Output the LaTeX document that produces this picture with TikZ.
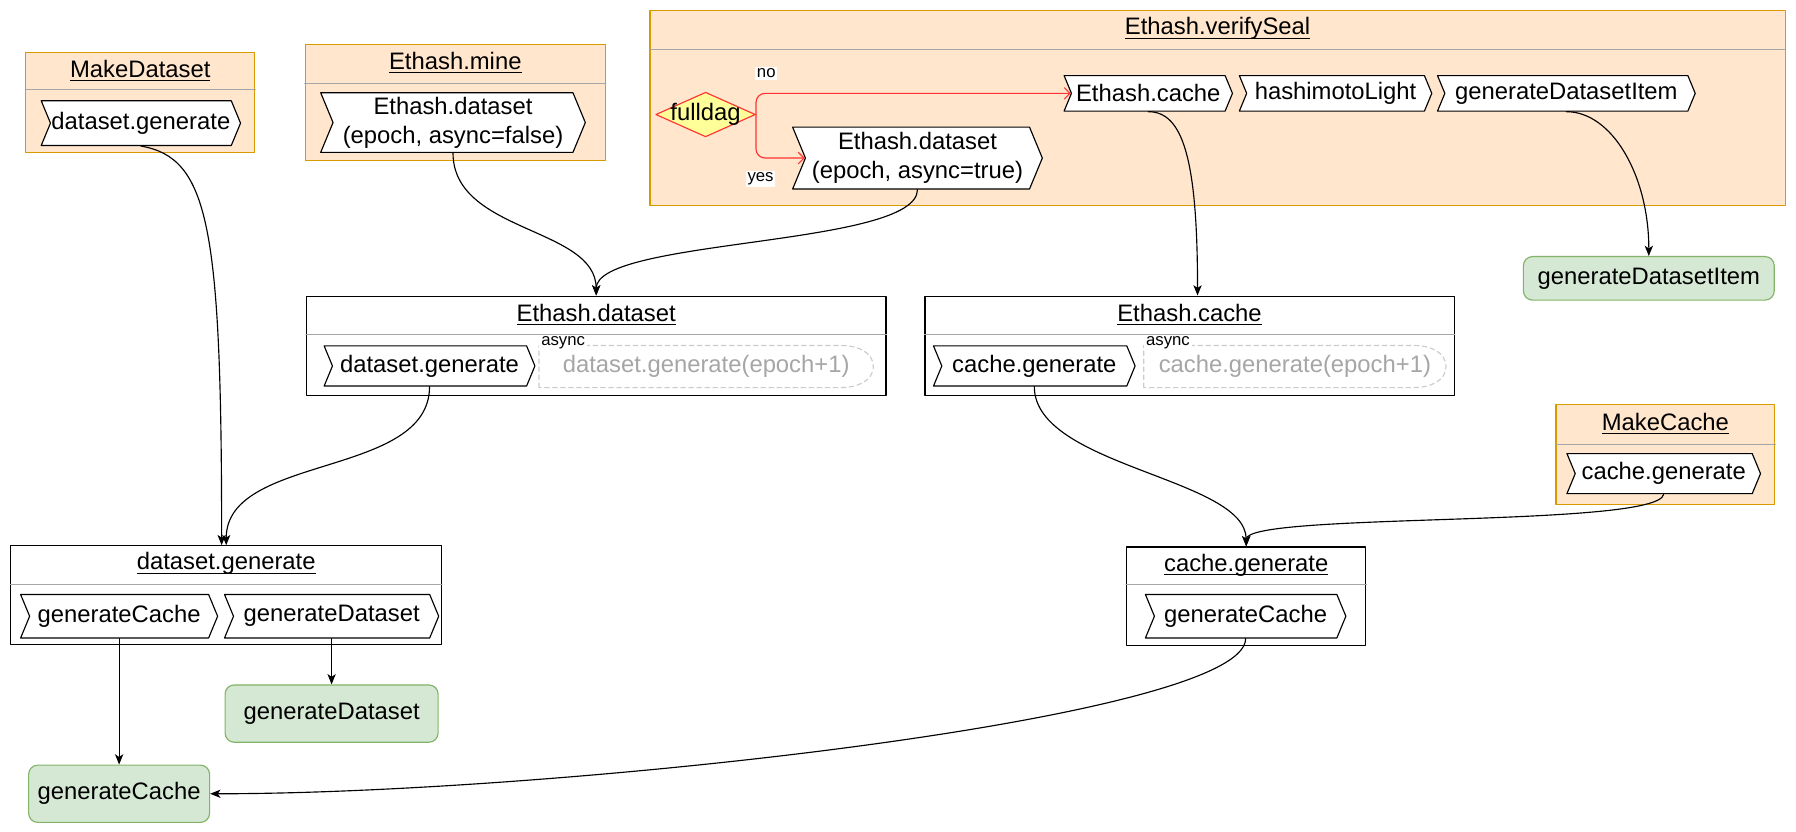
\documentclass[tikz,border=0pt]{standalone}
\usepackage{fontspec}
\setmainfont{Liberation Sans}
\usetikzlibrary{shapes.symbols,shapes.geometric,arrows.meta}
\definecolor{orangebg}{HTML}{FFE6CC}
\definecolor{orangeln}{HTML}{D79B00}
\definecolor{greenbg}{HTML}{D5E8D4}
\definecolor{greenln}{HTML}{82B366}
\definecolor{redln}{HTML}{FF3333}
\definecolor{yellowbg}{HTML}{FFFF99}
\newcommand\ulin[1]{\underline{\raisebox{0pt}[\height][0pt]{#1}}}
\begin{document}
\begin{tikzpicture}[x=0.5pt,y=0.5pt,line join=round,line cap=round]
		\useasboundingbox (0,0) rectangle (1568,-726);
		\tikzset{
		grp/.style={draw=orangeln,fill=orangebg,line width=0.5pt,anchor=north west,inner sep=0},
		blk/.style={draw,fill=white,line width=0.5pt,anchor=north west,inner sep=0},
		txt/.style={font=\fontsize{10.4}{12.5}\selectfont},
		ttl/.style={txt,inner sep=0},
		split/.style={draw=black!35,line width=0.5pt},
		chev/.style={txt,signal,signal to=east,signal from=west,signal pointer angle=135,draw,fill=white,line width=0.5pt,inner sep=0,align=center},
		leaf/.style={txt,rounded corners=4pt,draw=greenln,fill=greenbg,line width=0.5pt,inner sep=0},
		tag/.style={font=\fontsize{7.3}{8.8}\selectfont,fill=white,inner sep=0.8pt},
		later/.style={txt,text=black!35,inner sep=0},
		laterbox/.style={draw=black!20,dash pattern=on 2pt off 1.5pt,line width=0.5pt},
		call/.style={-{Stealth[length=4.5pt,width=3.6pt,inset=1.2pt]},line width=0.5pt},
		branch/.style={draw=redln,line width=0.5pt,rounded corners=4pt,-{Straight Barb[length=2.5pt,width=5pt]}},
		}
		%khung
		\node[grp,minimum width=100pt,minimum height=44pt] (mkds) at (22,-45) {};
		\node[grp,minimum width=131pt,minimum height=51pt] (mine) at (266,-38) {};
		\node[grp,minimum width=495.5pt,minimum height=85pt] (seal) at (567,-9) {};
		\node[blk,minimum width=253pt,minimum height=43.5pt] (dsb) at (267,-258) {};
		\node[blk,minimum width=231pt,minimum height=43.5pt] (cab) at (807,-258) {};
		\node[grp,minimum width=95.5pt,minimum height=43.5pt] (mkca) at (1358,-353) {};
		\node[blk,minimum width=188pt,minimum height=43pt] (dgen) at (9,-476) {};
		\node[blk,minimum width=104.5pt,minimum height=43pt] (cgen) at (983,-477) {};
		\foreach \n/\t/\s/\l in {mkds/62/78/MakeDataset,mine/55/73/Ethash.mine,seal/25/43/Ethash.verifySeal,dsb/275/292/Ethash.dataset,cab/275/292/Ethash.cache,mkca/370/388/MakeCache,dgen/492/510/dataset.generate,cgen/493/510/cache.generate}{
		\node[ttl] (\n-t) at (\n.north |- 0,-\t) {\ulin{\l}};
		\draw[split] (\n.west |- 0,-\s) -- (\n.east |- 0,-\s);
		}
		%buoc
		\node[chev,minimum width=87pt,minimum height=19.5pt] (c1) at (123,-107.5) {dataset.generate};
		\node[chev,minimum width=115.5pt,minimum height=26pt] (c2) at (395.5,-107) {Ethash.dataset\\(epoch, async=false)};
		\node[chev,minimum width=73.5pt,minimum height=15.5pt] (c3) at (1002.5,-81.5) {Ethash.cache};
		\node[chev,minimum width=84pt,minimum height=15.5pt] (c4) at (1166,-81.5) {hashimotoLight};
		\node[chev,minimum width=112.5pt,minimum height=15.5pt] (c5) at (1367.5,-81.5) {generateDatasetItem};
		\node[chev,minimum width=109pt,minimum height=27pt] (c6) at (801,-138) {Ethash.dataset\\(epoch, async=true)};
		\node[chev,minimum width=92pt,minimum height=17.5pt] (c7) at (375,-319.5) {dataset.generate};
		\node[chev,minimum width=88pt,minimum height=17.5pt] (c8) at (903,-319.5) {cache.generate};
		\node[chev,minimum width=84.5pt,minimum height=17.5pt] (c9) at (1452.5,-413.5) {cache.generate};
		\node[chev,minimum width=86pt,minimum height=19pt] (c10) at (104,-538) {generateCache};
		\node[chev,minimum width=93.5pt,minimum height=19pt] (c11) at (289.5,-538) {generateDataset};
		\node[chev,minimum width=87.5pt,minimum height=19pt] (c12) at (1087.5,-538) {generateCache};
		%fulldag
		\node[diamond,draw=redln,fill=yellowbg,line width=0.5pt,minimum width=43.5pt,minimum height=19.5pt,inner sep=0] (fd) at (616,-100) {};
		\node[txt,inner sep=0] (fdt) at (fd) {fulldag};
		\node[tag] (no) at (669,-64) {no};
		\node[tag] (yes) at (664,-156) {yes};
		%async
		\node[later,minimum width=145.5pt,minimum height=18pt] (e1) at (616.5,-320) {dataset.generate(epoch+1)};
		\node[later,minimum width=131.5pt,minimum height=18pt] (e2) at (1130.5,-320) {cache.generate(epoch+1)};
		\foreach \e in {e1,e2}{
		\draw[laterbox] (\e.south west) -- (\e.north west) -- ([xshift=-14pt]\e.north east) to[out=0,in=90] (\e.east) to[out=-90,in=0] ([xshift=-14pt]\e.south east) -- cycle;
		\node[tag,anchor=south west] (\e-a) at ([yshift=-2.5pt]\e.north west) {async};
		}
		%la
		\node[leaf,minimum width=109.5pt,minimum height=19pt] (gdi) at (1439.5,-243) {generateDatasetItem};
		\node[leaf,minimum width=93pt,minimum height=25pt] (gd) at (289.5,-623) {generateDataset};
		\node[leaf,minimum width=79pt,minimum height=25pt] (gc) at (104,-693) {generateCache};
		%noi
		\draw[branch] (fd.east) |- (c3.west);
		\draw[branch] (fd.east) |- (c6.west);
		\draw[call] (c1.south) .. controls +(-10:60) and +(90:280) .. ([xshift=-2pt]dgen.north);
		\draw[call] (c7.south) .. controls +(-90:80) and +(90:80) .. (dgen.north);
		\draw[call] (c2.south) .. controls +(-90:70) and +(90:60) .. (dsb.north);
		\draw[call] (c6.south) .. controls +(-90:50) and +(90:50) .. (dsb.north);
		\draw[call] (c3.south) .. controls +(0:30) and +(90:120) .. ([xshift=3.5pt]cab.north);
		\draw[call] (c5.south) .. controls +(0:40) and +(90:70) .. (gdi.north);
		\draw[call] (c8.south) .. controls +(-90:70) and +(90:60) .. (cgen.north);
		\draw[call] (c9.south) .. controls +(-100:30) and +(90:30) .. (cgen.north);
		\draw[call] (c10.south) -- (gc.north);
		\draw[call] (c11.south) -- (gd.north);
		\draw[call] (c12.south) .. controls +(-90:70) and +(0:300) .. (gc.east);
\end{tikzpicture}
\end{document}
